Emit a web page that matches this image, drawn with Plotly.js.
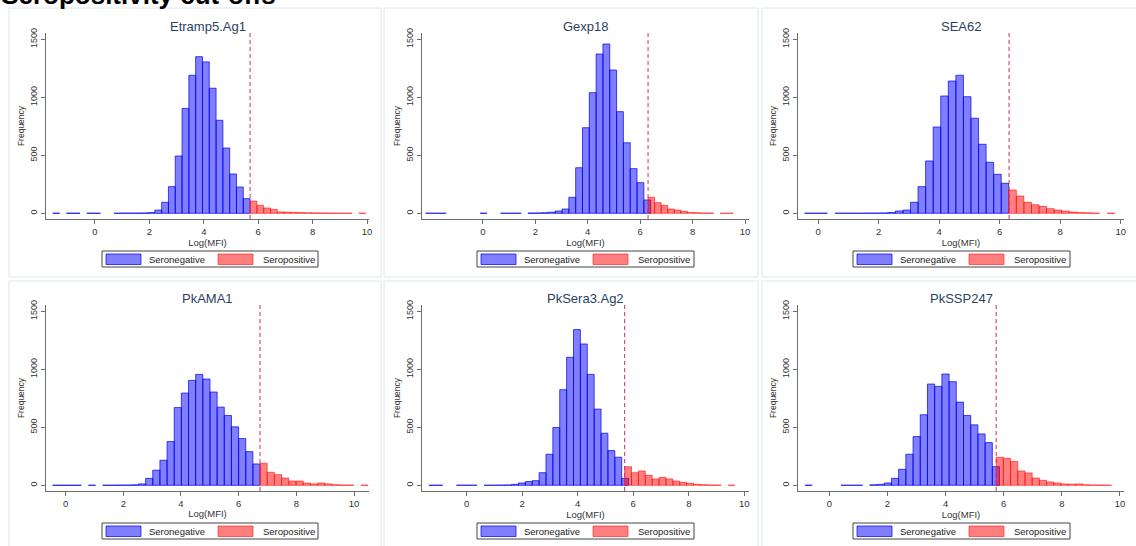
<!DOCTYPE html>
<html><head><meta charset="utf-8">
<script src="https://cdn.plot.ly/plotly-3.0.1.min.js"></script>
<style>html,body{margin:0;padding:0;background:#fff;overflow:hidden}#chart{width:1136px;height:546px}</style>
</head><body><div id="chart"></div>
<script>
// ---------------- DATA ----------------
const antigens = ["Etramp5.Ag1", "Gexp18", "SEA62", "PkAMA1", "PkSera3.Ag2", "PkSSP247"];
const cutoffs  = [5.70, 6.30, 6.31, 6.74, 5.69, 5.74];
const legendLabels = ["Seronegative", "Seropositive"];
const xTicks = [0, 2, 4, 6, 8, 10];
const yTicks = [0, 500, 1000, 1500];

// histogram bins (Log(MFI)): first bin start and bin width per antigen
const negBinStart = [-1.55, -2.18, -0.45, -0.45, -1.36, -0.84];
const negBinWidth = [0.25, 0.26, 0.25, 0.248, 0.248, 0.248];
const posBinStart = [5.70, 6.30, 6.30, 6.74, 5.69, 5.74];
const posBinWidth = [0.25, 0.25, 0.25, 0.25, 0.248, 0.248];

// frequencies, seronegative
const negEtramp5 = [1,0,1,1,0,1,1,0,0,1,2,2,2,3,6,28,95,230,494,904,1190,1350,1305,1078,802,563,339,227,126];
const negGexp18  = [1,1,1,0,0,0,0,0,1,0,0,1,1,1,0,2,3,5,10,20,37,138,393,738,1040,1373,1459,1235,876,608,385,264,115];
const negSEA62   = [1,1,1,0,1,1,1,1,2,2,3,6,20,28,95,230,451,744,1011,1140,1190,1005,819,595,440,336,259];
const negPkAMA1  = [1,1,1,1,0,1,0,1,1,2,2,4,12,60,130,216,377,670,795,904,956,916,804,674,602,504,403,290,184];
const negPkSera3 = [1,1,0,0,1,1,1,0,1,1,2,3,8,20,32,40,109,268,498,824,1103,1342,1218,956,657,449,299,242,60];
const negPkSSP247= [1,0,0,0,0,1,1,1,0,4,8,20,60,138,268,420,608,873,852,959,893,717,602,521,443,368,161];

// frequencies, seropositive
const posEtramp5 = [106,69,46,34,12,10,8,6,5,4,3,2,2,1,1,0,1];
const posGexp18  = [138,92,69,37,28,17,8,5,3,2,0,1,1];
const posSEA62   = [201,149,95,74,60,40,28,20,11,6,4,2,0,1];
const posPkAMA1  = [190,112,92,63,37,37,20,12,20,12,5,3,2,0,1];
const posPkSera3 = [161,109,124,86,55,69,55,37,26,17,9,5,3,2,0,1];
const posPkSSP247= [242,233,205,124,107,63,43,29,20,12,10,12,5,3,2,1];

const negCounts = [negEtramp5, negGexp18, negSEA62, negPkAMA1, negPkSera3, negPkSSP247];
const posCounts = [posEtramp5, posGexp18, posSEA62, posPkAMA1, posPkSera3, posPkSSP247];

// ---------------- LAYOUT GEOMETRY (pixels) ----------------
const W = 1136, H = 546;
const fx = p => p / W, fy = p => 1 - p / H;
const colPlot   = [[46, 369], [421.7, 749.3], [797.7, 1124.3]];
const rowPlot   = [[33, 219], [305, 491]];
const colFrame  = [[9, 381], [384, 758], [762, 1140]];
const rowFrame  = [[8, 277], [281, 550]];
const colLegend = [[102, 318], [477, 694], [853, 1070]];
const rowLegend = [[251, 267], [523, 539]];
const xRanges = [[-1.80, 10.07], [-2.33, 10.16], [-0.68, 10.12], [-0.68, 10.52], [-1.62, 10.18], [-1.09, 10.15]];
const yRange = [-49, 1554];

const FONT = "Liberation Sans, Arial, Helvetica, sans-serif";
const BLUE_FILL = "rgba(0,0,255,0.5)", BLUE_LINE = "rgba(0,0,235,0.7)";
const RED_FILL = "rgba(255,0,0,0.5)", RED_LINE = "rgba(255,0,0,0.55)";
const AXC = "#6e6e6e";

const traces = [], shapes = [], annotations = [];
const layout = {
  width: W, height: H,
  margin: {l: 0, r: 0, t: 0, b: 0},
  paper_bgcolor: "#ffffff", plot_bgcolor: "rgba(0,0,0,0)",
  barmode: "overlay", showlegend: false,
  font: {family: FONT, color: "#333"},
  title: {text: "<b>Seropositivity cut-offs</b>", x: 0.001, xref: "container", xanchor: "left",
          y: 1 - 3.5 / H, yref: "container", yanchor: "bottom",
          font: {family: FONT, size: 26, color: "#000"}}
};

function centers(start, w, n) { const c = []; for (let k = 0; k < n; k++) c.push(start + (k + 0.5) * w); return c; }
function widths(w, n) { return new Array(n).fill(w); }
const noZero = arr => arr.map(v => (v === 0 ? null : v)); // empty bins draw nothing

for (let i = 0; i < 6; i++) {
  const r = Math.floor(i / 3), c = i % 3;
  const suf = i === 0 ? "" : String(i + 1);
  const xa = "x" + suf, ya = "y" + suf;

  shapes.push({type: "rect", xref: "paper", yref: "paper", layer: "below",
    x0: fx(colFrame[c][0]), x1: fx(colFrame[c][1]), y0: fy(rowFrame[r][1]), y1: fy(rowFrame[r][0]),
    line: {color: "#dde6ea", width: 1}, fillcolor: "#ffffff"});

  const nN = negCounts[i].length, nP = posCounts[i].length;
  traces.push({type: "bar", xaxis: xa, yaxis: ya, name: legendLabels[0],
    x: centers(negBinStart[i], negBinWidth[i], nN), y: noZero(negCounts[i]), width: widths(negBinWidth[i], nN),
    marker: {color: BLUE_FILL, line: {color: BLUE_LINE, width: 1}}, hoverinfo: "x+y"});
  traces.push({type: "bar", xaxis: xa, yaxis: ya, name: legendLabels[1],
    x: centers(posBinStart[i], posBinWidth[i], nP), y: noZero(posCounts[i]), width: widths(posBinWidth[i], nP),
    marker: {color: RED_FILL, line: {color: RED_LINE, width: 1}}, hoverinfo: "x+y"});

  layout["xaxis" + suf] = {
    domain: [fx(colPlot[c][0]), fx(colPlot[c][1])], anchor: ya, range: xRanges[i],
    tickvals: xTicks, ticks: "outside", ticklen: 4, tickcolor: AXC, tickwidth: 1,
    showline: true, linecolor: AXC, linewidth: 1, showgrid: false, zeroline: false,
    tickfont: {family: FONT, size: 9.5, color: "#333"},
    title: {text: "Log(MFI)", font: {family: FONT, size: 9.5, color: "#333"}, standoff: 1},
    fixedrange: true
  };
  layout["yaxis" + suf] = {
    domain: [fy(rowPlot[r][1]), fy(rowPlot[r][0])], anchor: xa, range: yRange,
    tickvals: yTicks, tickangle: -90, ticks: "outside", ticklen: 4, tickcolor: AXC, tickwidth: 1,
    showline: true, linecolor: AXC, linewidth: 1, showgrid: false, zeroline: false,
    tickfont: {family: FONT, size: 9, color: "#333"},
    title: {text: "Frequency", font: {family: FONT, size: 8.5, color: "#333"}, standoff: 3},
    fixedrange: true
  };

  shapes.push({type: "line", xref: xa, yref: ya + " domain", x0: cutoffs[i], x1: cutoffs[i], y0: 0, y1: 1,
    line: {color: "#dc2a55", width: 1, dash: "4px,3px"}});

  annotations.push({xref: "paper", yref: "paper", x: fx((colPlot[c][0] + colPlot[c][1]) / 2), y: fy(rowPlot[r][0] - 6.5),
    xanchor: "center", yanchor: "middle", showarrow: false, text: antigens[i],
    font: {family: FONT, size: 13, color: "#2a3f5f"}});

  const L = colLegend[c][0], R = colLegend[c][1], T = rowLegend[r][0], B = rowLegend[r][1];
  shapes.push({type: "rect", xref: "paper", yref: "paper", x0: fx(L), x1: fx(R), y0: fy(B), y1: fy(T),
    line: {color: "#444", width: 1}, fillcolor: "#ffffff"});
  const sw = [[L + 4, L + 39, BLUE_FILL, BLUE_LINE], [L + 116, L + 151, RED_FILL, RED_LINE]];
  sw.forEach(s => shapes.push({type: "rect", xref: "paper", yref: "paper", x0: fx(s[0]), x1: fx(s[1]),
    y0: fy(T + 13.5), y1: fy(T + 3), line: {color: s[3], width: 1}, fillcolor: s[2]}));
  [[L + 45, legendLabels[0]], [L + 159, legendLabels[1]]].forEach(t => annotations.push({
    xref: "paper", yref: "paper", x: fx(t[0]), y: fy(T + 8.3), xanchor: "left", yanchor: "middle",
    showarrow: false, text: t[1], font: {family: FONT, size: 9.5, color: "#222"}}));
}
layout.shapes = shapes;
layout.annotations = annotations;

Plotly.newPlot("chart", traces, layout, {staticPlot: true, displayModeBar: false});
</script>
</body></html>
